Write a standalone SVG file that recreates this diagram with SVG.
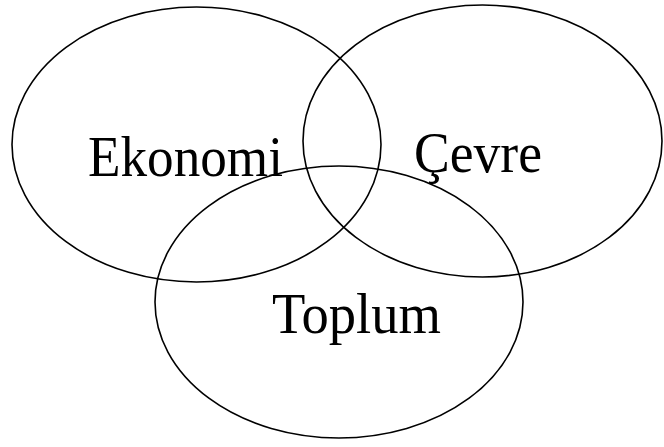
<svg xmlns="http://www.w3.org/2000/svg" width="664" height="447" viewBox="0 0 664 447">
<style>
.c{fill:none;stroke:#000;stroke-width:1.6}
.t{font-family:"Liberation Serif","DejaVu Serif",serif;font-size:56px;fill:#000}
</style>
<rect width="664" height="447" fill="#fff"/>
<g id="ekonomi">
<ellipse class="c" cx="196.5" cy="144.5" rx="184.5" ry="137.5"/>
<text class="t" x="88" y="176" textLength="195" lengthAdjust="spacingAndGlyphs">Ekonomi</text>
</g>
<g id="cevre">
<ellipse class="c" cx="482.5" cy="141" rx="179.5" ry="136"/>
<text class="t" x="414" y="172" textLength="128" lengthAdjust="spacingAndGlyphs">Çevre</text>
</g>
<g id="toplum">
<ellipse class="c" cx="339" cy="302" rx="184" ry="136"/>
<text class="t" x="272" y="333" textLength="169" lengthAdjust="spacingAndGlyphs">Toplum</text>
</g>
<g id="connectors"/>
</svg>
